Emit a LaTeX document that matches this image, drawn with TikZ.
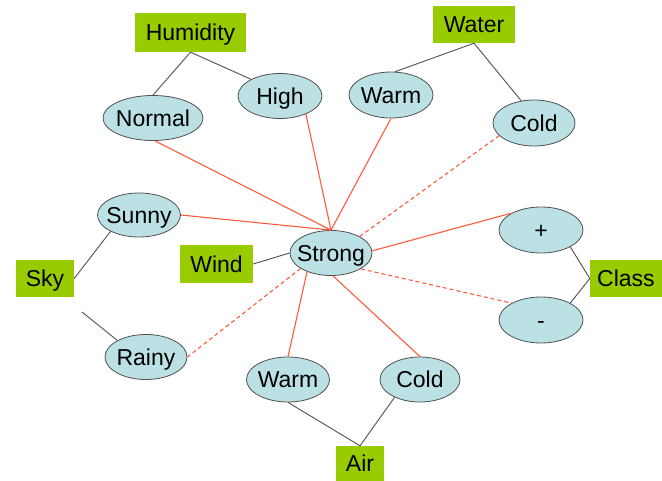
\documentclass[tikz,border=0pt]{standalone}
\usepackage{fontspec}
\setmainfont{Liberation Sans}
\usetikzlibrary{shapes.geometric}
\definecolor{ellblue}{HTML}{BCE1E5}
\definecolor{boxgreen}{HTML}{99CC00}
\definecolor{redline}{HTML}{FF5A3C}
\definecolor{grayline}{HTML}{505050}
\newcommand{\ct}[1]{\makebox[0pt]{#1}}
\begin{document}
\begin{tikzpicture}[x=1pt,y=-1pt,
  every node/.style={font=\fontsize{23}{27}\selectfont, text=black, text height=16.5pt, text depth=0pt},
  ell/.style={ellipse, draw=grayline, line width=0.8pt, fill=ellblue, inner sep=0pt},
  gbox/.style={rectangle, fill=boxgreen, inner sep=0pt},
  gl/.style={draw=grayline, line width=0.9pt},
  rl/.style={draw=redline, line width=1.1pt},
  rd/.style={draw=redline, line width=1.1pt, dash pattern=on 4pt off 3pt}]
\useasboundingbox (0,0) rectangle (662,481);
% boxes
\node[gbox, minimum width=111, minimum height=39] (humidity) at (190.5,32.5) {Humidity};
\node[gbox, minimum width=82, minimum height=37] (water) at (474,24.5) {Water};
\node[gbox, minimum width=58, minimum height=37] (sky) at (45,278.5) {Sky};
\node[gbox, minimum width=73, minimum height=38] (wind) at (216.5,264) {Wind};
\node[gbox, minimum width=72, minimum height=37] (class) at (626,278.5) {Class};
\node[gbox, minimum width=48, minimum height=35] (air) at (360,463.5) {Air};
% ellipses
\node[ell, minimum width=100, minimum height=45] (normal) at (153,118) {\ct{Normal}};
\node[ell, minimum width=84, minimum height=45] (high) at (280,96) {\ct{High}};
\node[ell, minimum width=84, minimum height=46] (warmt) at (391,95) {\ct{Warm}};
\node[ell, minimum width=82, minimum height=46] (coldt) at (534,123) {\ct{Cold}};
\node[ell, minimum width=83, minimum height=44] (sunny) at (139,215) {\ct{Sunny}};
\node[ell, minimum width=82, minimum height=45] (strong) at (331,253) {\ct{Strong}};
\node[ell, minimum width=82, minimum height=45] (rainy) at (146,357) {\ct{Rainy}};
\node[ell, minimum width=84, minimum height=46] (plus) at (541,230) {\ct{+}};
\node[ell, minimum width=84, minimum height=46] (minus) at (541,320) {\ct{-}};
\node[ell, minimum width=83, minimum height=45] (warmb) at (288,379.5) {\ct{Warm}};
\node[ell, minimum width=80, minimum height=45] (coldb) at (420,379.5) {\ct{Cold}};
\coordinate (skyfree) at (82,312);
% gray connectors
\draw[gl] (humidity.south) -- (normal.north);
\draw[gl] (humidity.south) -- (high.150);
\draw[gl] (water.south) -- (warmt.80);
\draw[gl] (water.south) -- (coldt.120);
\draw[gl] (sky.east) -- (sunny.210);
\draw[gl] (skyfree) -- (rainy.150);
\draw[gl] (wind.east) -- (strong.west);
\draw[gl] (class.west) -- (plus.-30);
\draw[gl] (class.west) -- (minus.30);
\draw[gl] (air.north) -- (warmb.south);
\draw[gl] (air.north) -- (coldb.215);
% red connectors
\draw[rl] (normal.-85) -- (strong.north);
\draw[rl] (sunny.east) -- (strong.north);
\draw[rl] (high.-35) -- (strong.north);
\draw[rl] (warmt.south) -- (strong.north);
\draw[rd] (coldt.200) -- (strong.30);
\draw[rl] (strong.3) -- (plus.150);
\draw[rd] (strong.-28) -- (minus.150);
\draw[rd] (strong.207) -- (rainy.east);
\draw[rl] (strong.218) -- (warmb.north);
\draw[rl] (strong.-85) -- (coldb.north);
\end{tikzpicture}
\end{document}
